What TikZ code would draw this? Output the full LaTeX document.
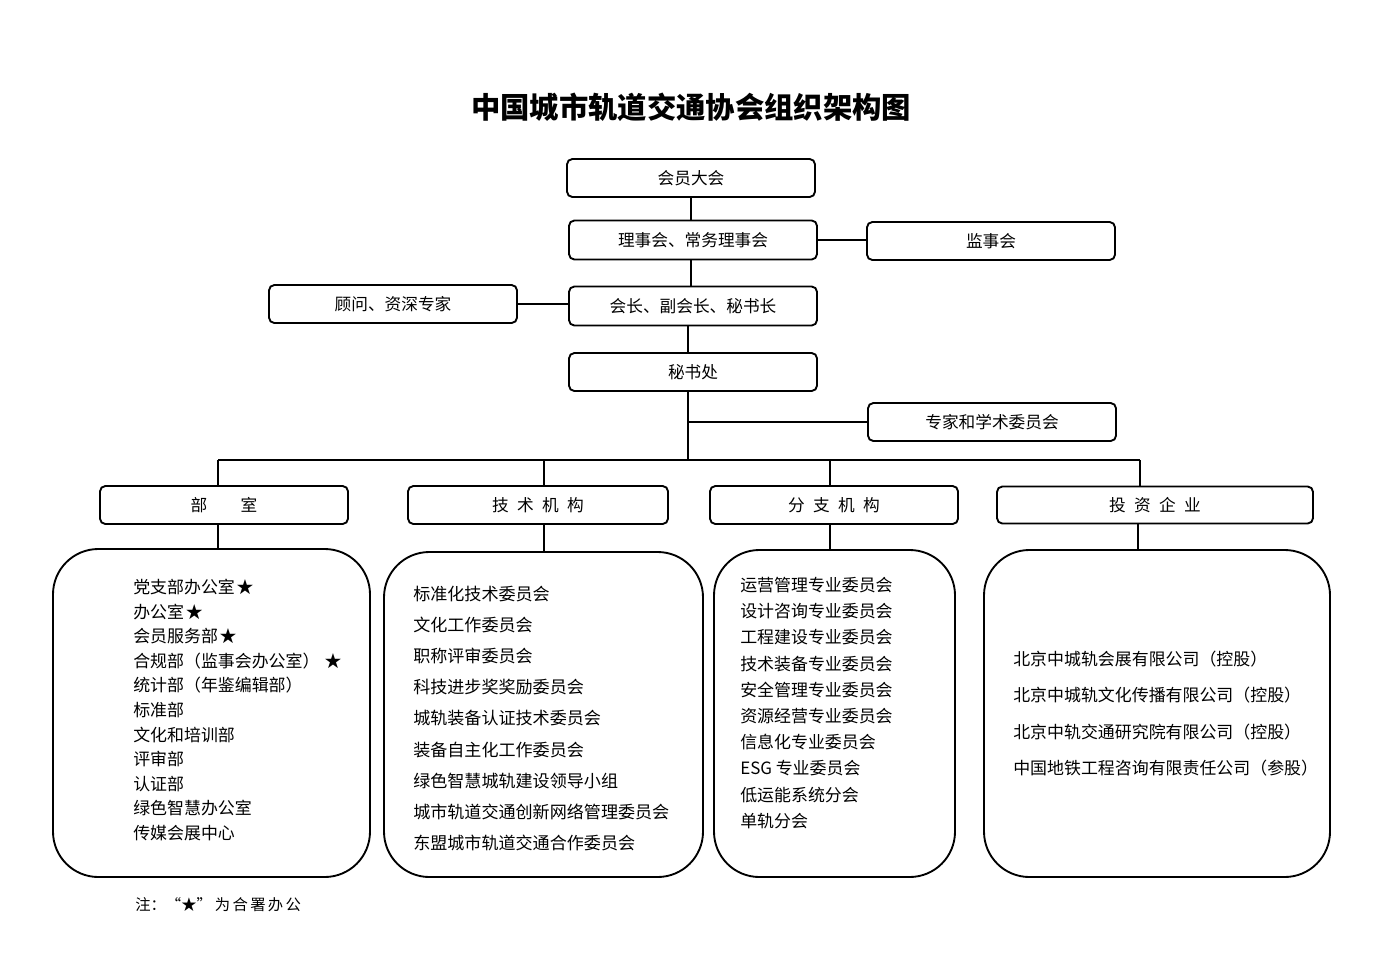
\documentclass[tikz,border=0pt]{standalone}
\usepackage{fontspec}
\newfontfamily\cjk{Noto Sans CJK SC}
\begin{document}
\begin{tikzpicture}[x=0.75pt,y=-0.75pt,
  box/.style={draw, line width=1.4pt, rounded corners=4pt, fill=white, inner sep=0pt,
    font=\cjk\fontsize{12.5pt}{15pt}\selectfont},
  bigbox/.style={draw, line width=1.4pt, rounded corners=34pt, inner sep=0pt},
  listtext/.style={anchor=west, align=left, inner sep=0pt},
  link/.style={line width=1.5pt},
  hlink/.style={line width=2.2pt}]
\useasboundingbox (0,0) rectangle (1383,978);

% title
\node[font=\cjk\bfseries\fontsize{22pt}{26pt}\selectfont] (title) at (691,107) {中国城市轨道交通协会组织架构图};

% top boxes
\node[box, minimum width=248*0.75pt, minimum height=38*0.75pt] (hy) at (691,178) {会员大会};
\node[box, minimum width=248*0.75pt, minimum height=39*0.75pt] (lsh) at (693,240) {理事会、常务理事会};
\node[box, minimum width=248*0.75pt, minimum height=38*0.75pt] (jsh) at (991,241) {监事会};
\node[box, minimum width=248*0.75pt, minimum height=38*0.75pt] (gw) at (393,304) {顾问、资深专家};
\node[box, minimum width=248*0.75pt, minimum height=39*0.75pt] (hz) at (693,306) {会长、副会长、秘书长};
\node[box, minimum width=248*0.75pt, minimum height=38*0.75pt] (msc) at (693,372) {秘书处};
\node[box, minimum width=248*0.75pt, minimum height=38*0.75pt] (zj) at (992,422) {专家和学术委员会};

% header boxes
\node[box, minimum width=248*0.75pt, minimum height=38*0.75pt] (bs) at (224,505) {部　　室};
\node[box, minimum width=260*0.75pt, minimum height=38*0.75pt] (js) at (538,505) {技\hspace{0.5em}术\hspace{0.5em}机\hspace{0.5em}构};
\node[box, minimum width=248*0.75pt, minimum height=38*0.75pt] (fz) at (834,505) {分\hspace{0.5em}支\hspace{0.5em}机\hspace{0.5em}构};
\node[box, minimum width=316*0.75pt, minimum height=37*0.75pt] (tz) at (1155,505) {投\hspace{0.5em}资\hspace{0.5em}企\hspace{0.5em}业};

% big boxes
\node[bigbox, minimum width=317*0.75pt, minimum height=328*0.75pt] (b1) at (211.5,713) {};
\node[bigbox, minimum width=319*0.75pt, minimum height=325*0.75pt] (b2) at (543.5,714.5) {};
\node[bigbox, minimum width=241*0.75pt, minimum height=327*0.75pt] (b3) at (834.5,713.5) {};
\node[bigbox, minimum width=346*0.75pt, minimum height=327*0.75pt] (b4) at (1157,713.5) {};

% lists
\node[listtext, font=\cjk\fontsize{12.7pt}{18.45pt}\selectfont] (l1) at (133,710) {党支部办公室\hspace{0.1em}★\\办公室\hspace{0.1em}★\\会员服务部\hspace{0.1em}★\\合规部（监事会办公室）\hspace{0.3em}★\\统计部（年鉴编辑部）\\标准部\\文化和培训部\\评审部\\认证部\\绿色智慧办公室\\传媒会展中心};
\node[listtext, font=\cjk\fontsize{12.8pt}{23.3pt}\selectfont] (l2) at (413,718.5) {标准化技术委员会\\文化工作委员会\\职称评审委员会\\科技进步奖奖励委员会\\城轨装备认证技术委员会\\装备自主化工作委员会\\绿色智慧城轨建设领导小组\\城市轨道交通创新网络管理委员会\\东盟城市轨道交通合作委员会};
\node[listtext, font=\cjk\fontsize{12.7pt}{19.65pt}\selectfont] (l3) at (740,703) {运营管理专业委员会\\设计咨询专业委员会\\工程建设专业委员会\\技术装备专业委员会\\安全管理专业委员会\\资源经营专业委员会\\信息化专业委员会\\ESG 专业委员会\\低运能系统分会\\单轨分会};
\node[listtext, font=\cjk\fontsize{12.7pt}{27.2pt}\selectfont] (l4) at (1013,713.5) {北京中城轨会展有限公司（控股）\\北京中城轨文化传播有限公司（控股）\\北京中轨交通研究院有限公司（控股）\\中国地铁工程咨询有限责任公司（参股）};

% note
\node[anchor=west, inner sep=0pt, font=\cjk\fontsize{11.5pt}{14pt}\selectfont] (note) at (135,905) {注：“★”\hspace{0.2em}为\hspace{0.15em}合\hspace{0.15em}署\hspace{0.15em}办\hspace{0.15em}公};

% connectors
\coordinate (trunk) at (688,460);
\coordinate (d1) at (218,460);
\coordinate (d2) at (544,460);
\coordinate (d3) at (830,460);
\coordinate (d4) at (1140,460);
\draw[link] (hy.south) -- (hy.south |- lsh.north);
\draw[link] (lsh.south -| hy.south) -- (hz.north -| hy.south);
\draw[hlink] (lsh.east) -- (lsh.east -| jsh.west);
\draw[hlink] (gw.east) -- (gw.east -| hz.west);
\draw[link] (hz.south -| trunk) -- (msc.north -| trunk);
\draw[link] (msc.south -| trunk) -- (trunk);
\draw[hlink] (trunk |- zj.west) -- (zj.west);
\draw[hlink] (d1) -- (d4);
\draw[link] (d1) -- (d1 |- bs.north);
\draw[link] (d2) -- (d2 |- js.north);
\draw[link] (d3) -- (d3 |- fz.north);
\draw[link] (d4) -- (d4 |- tz.north);
\draw[link] (d1 |- bs.south) -- (d1 |- b1.north);
\draw[link] (d2 |- js.south) -- (d2 |- b2.north);
\draw[link] (d3 |- fz.south) -- (d3 |- b3.north);
\draw[link] (tz.south -| 1138,0) -- (b4.north -| 1138,0);
\end{tikzpicture}
\end{document}
